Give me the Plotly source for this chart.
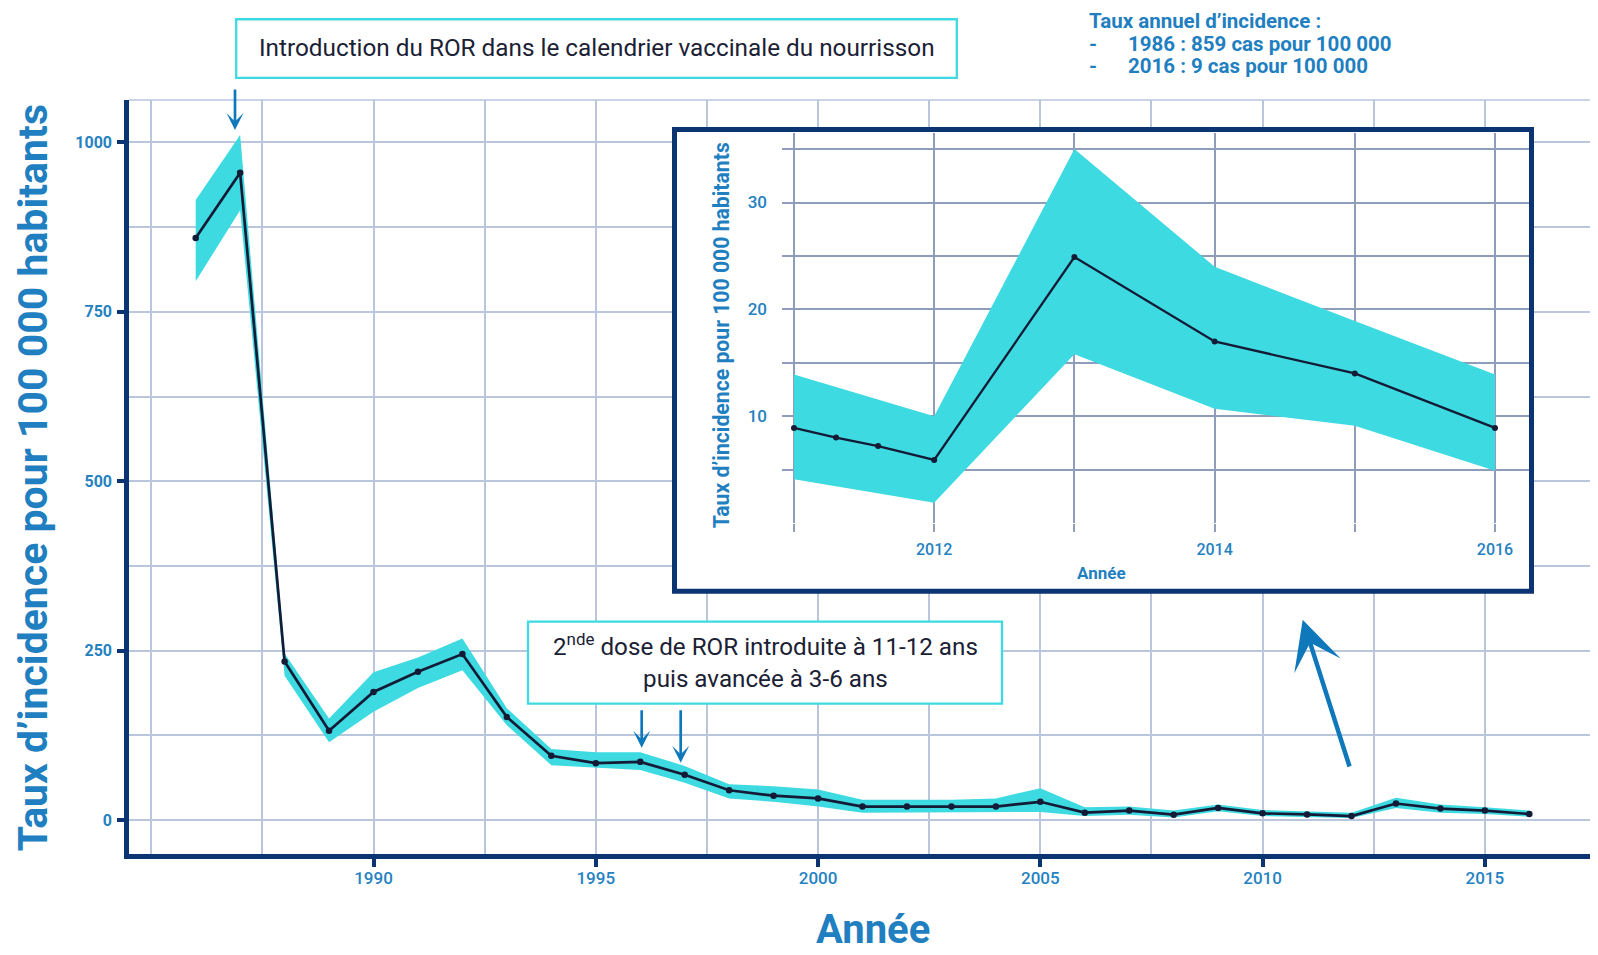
import plotly.graph_objects as go

# ---------------- data ----------------
years = list(range(1986, 2017))
incidence = [859, 955, 234, 132, 189, 219, 245, 152, 95, 84, 86, 67, 44, 36, 32,
             20, 20, 20, 20, 27, 11, 14, 8, 18, 10, 8.4, 6, 24.5, 17, 14, 9]
upper = [915, 1011, 246, 150, 218, 240, 268, 165, 105, 100, 100, 80, 53, 50, 45,
         30, 30, 30, 32, 47, 19, 20, 14, 23, 15, 13, 11, 33, 23, 19, 14]
lower = [795, 900, 213, 115, 160, 195, 221, 140, 81, 78, 74, 55, 32, 27, 20,
         11, 11, 11, 12, 12, 6, 8, 4, 13, 6, 5, 3, 18, 11, 9, 5]

inset_years = [2011, 2011.3, 2011.6, 2012, 2013, 2014, 2015, 2016]
inset_incidence = [8.9, 8.0, 7.2, 5.9, 24.9, 17.0, 14.0, 8.9]
inset_band_years = [2011, 2012, 2013, 2014, 2015, 2016]
inset_upper = [13.9, 10.0, 35.0, 24.0, 18.9, 13.9]
inset_lower = [4.1, 1.9, 15.8, 10.7, 9.1, 4.9]

main_xticks = [1990, 1995, 2000, 2005, 2010, 2015]
main_yticks = [0, 250, 500, 750, 1000]
inset_xticks = [2011, 2012, 2013, 2014, 2015, 2016]
inset_xlabels = ["", "2012", "", "2014", "", "2016"]
inset_yticks = [0, 5, 10, 15, 20, 25, 30, 35]
inset_ylabels = ["", "", "10", "", "20", "", "30", ""]

# ---------------- style ----------------
CYAN = "#3ddae1"
NAVY = "#141b36"
AXIS = "#0b3473"
GRID = "#b9c6de"
INSET_GRID = "#8f9cba"
BLUE = "#1f7fc0"
TICKBLUE = "#2582c1"
ARROW = "#0f78bb"
BOXTEXT = "#1b2135"
FONT = "Roboto"

# page body has an 8px margin: work in reference pixels and shift by OFF
OFF = 8
W, H = 1598 - OFF, 955 - OFF
PLOT_X0, PLOT_X1 = 129 - OFF, 1596 - OFF
PLOT_Y0, PLOT_Y1 = 100 - OFF, 854.5 - OFF
L, R = PLOT_X0, W - PLOT_X1
T, B = PLOT_Y0, H - PLOT_Y1
PW, PH = PLOT_X1 - PLOT_X0, PLOT_Y1 - PLOT_Y0
XR = [1984.5, 2017.5]
YR = [-50, 1062.5]


def pxp(px):  # reference pixel -> paper x
    return (px - OFF - L) / PW


def pyp(py):  # reference pixel -> paper y
    return (PLOT_Y1 - (py - OFF)) / PH


def px_to_x(px):
    return XR[0] + pxp(px) * (XR[1] - XR[0])


def py_to_y(py):
    return YR[0] + pyp(py) * (YR[1] - YR[0])


fig = go.Figure()

# main band + line
fig.add_trace(go.Scatter(x=years, y=lower, mode="lines", line=dict(width=0),
                         showlegend=False, hoverinfo="skip"))
fig.add_trace(go.Scatter(x=years, y=upper, mode="lines", line=dict(width=0),
                         fill="tonexty", fillcolor=CYAN, showlegend=False, hoverinfo="skip"))
fig.add_trace(go.Scatter(x=years, y=incidence, mode="lines+markers",
                         line=dict(color=NAVY, width=2.7),
                         marker=dict(size=6.5, color=NAVY), showlegend=False))

# inset band + line
fig.add_trace(go.Scatter(x=inset_band_years, y=inset_lower, mode="lines", line=dict(width=0),
                         xaxis="x2", yaxis="y2", showlegend=False, hoverinfo="skip"))
fig.add_trace(go.Scatter(x=inset_band_years, y=inset_upper, mode="lines", line=dict(width=0),
                         fill="tonexty", fillcolor=CYAN, xaxis="x2", yaxis="y2",
                         showlegend=False, hoverinfo="skip"))
fig.add_trace(go.Scatter(x=inset_years, y=inset_incidence, mode="lines+markers",
                         line=dict(color=NAVY, width=2.3),
                         marker=dict(size=6, color=NAVY), xaxis="x2", yaxis="y2",
                         showlegend=False))

# inset plotting area in reference pixels
ix0, ix1 = 782, 1529
iy_top, iy_bot = 133, 523.3

fig.update_layout(
    width=W, height=H,
    margin=dict(l=L, r=R, t=T, b=B),
    paper_bgcolor="white", plot_bgcolor="white",
    font=dict(family=FONT),
    showlegend=False,
    xaxis=dict(
        range=XR, tickvals=main_xticks, ticks="outside", ticklen=8, tickwidth=4,
        tickcolor=AXIS, showline=True, linecolor=AXIS, linewidth=4.5,
        showgrid=True, gridcolor=GRID, gridwidth=1.5, zeroline=False,
        minor=dict(dtick=2.5, tick0=1985, showgrid=True, gridcolor=GRID, gridwidth=1.5, ticks=""),
        tickfont=dict(family=FONT, size=17, color=TICKBLUE, weight=500),
        ticklabelstandoff=-3,
    ),
    yaxis=dict(
        range=YR, tickvals=main_yticks, ticks="outside", ticklen=7, tickwidth=4,
        tickcolor=AXIS, showline=True, linecolor=AXIS, linewidth=4.5,
        showgrid=True, gridcolor=GRID, gridwidth=1.5, zeroline=False,
        minor=dict(dtick=125, tick0=0, showgrid=True, gridcolor=GRID, gridwidth=1.5, ticks=""),
        tickfont=dict(family=FONT, size=16, color=TICKBLUE, weight="bold"),
        ticklabelstandoff=2,
    ),
    xaxis2=dict(
        domain=[pxp(ix0), pxp(ix1)], anchor="y2",
        range=[2011 - (794 - ix0) / 140.2, 2016 + (ix1 - 1495) / 140.2],
        tickvals=inset_xticks, ticktext=inset_xlabels, ticks="outside", ticklen=8,
        tickwidth=1.5, tickcolor=INSET_GRID, showline=False, zeroline=False,
        showgrid=True, gridcolor=INSET_GRID, gridwidth=1.5,
        tickfont=dict(family=FONT, size=16, color=TICKBLUE, weight=500),
        ticklabelstandoff=4,
    ),
    yaxis2=dict(
        domain=[pyp(iy_bot), pyp(iy_top)], anchor="x2",
        range=[0, (iy_bot - iy_top) / 10.69],
        tickvals=inset_yticks, ticktext=inset_ylabels, ticks="", showline=False,
        zeroline=False, showgrid=True, gridcolor=INSET_GRID, gridwidth=1.5,
        tickfont=dict(family=FONT, size=17, color=TICKBLUE, weight=500),
        ticklabelstandoff=14,
    ),
)

shapes = []
shapes.append(dict(type="line", xref="paper", yref="paper", x0=0, x1=1, y0=1, y1=1,
                   line=dict(color=GRID, width=1.5), layer="below"))
shapes.append(dict(type="rect", xref="x", yref="y",
                   x0=px_to_x(674.5), x1=px_to_x(1531.5),
                   y0=py_to_y(591.5), y1=py_to_y(129.5),
                   fillcolor="white", line=dict(color=AXIS, width=5), layer="between"))
shapes.append(dict(type="rect", xref="paper", yref="paper",
                   x0=pxp(236.2), x1=pxp(956.8), y0=pyp(77.8), y1=pyp(19.2),
                   fillcolor="white", line=dict(color=CYAN, width=2.3), layer="above"))
shapes.append(dict(type="rect", xref="paper", yref="paper",
                   x0=pxp(528), x1=pxp(1002), y0=pyp(704), y1=pyp(622),
                   fillcolor="white", line=dict(color=CYAN, width=2.3), layer="above"))
fig.update_layout(shapes=shapes)

ann = []
ann.append(dict(xref="paper", yref="paper", x=pxp(596.5), y=pyp(47.5), showarrow=False,
                text="Introduction du ROR dans le calendrier vaccinale du nourrisson",
                font=dict(family=FONT, size=24.3, color=BOXTEXT), xanchor="center", yanchor="middle"))
ann.append(dict(xref="paper", yref="paper", x=pxp(765), y=pyp(661), showarrow=False,
                text="2<sup>nde</sup> dose de ROR introduite à 11-12 ans<br>puis avancée à 3-6 ans",
                font=dict(family=FONT, size=24.2, color=BOXTEXT), xanchor="center", yanchor="middle"))
ann.append(dict(xref="paper", yref="paper", x=pxp(1087), y=pyp(21), showarrow=False,
                text="Taux annuel d’incidence :", xanchor="left", yanchor="middle",
                font=dict(family=FONT, size=20.5, color=BLUE, weight="bold")))
for yy, txt in [(43.5, "1986 : 859 cas pour 100 000"), (66, "2016 : 9 cas pour 100 000")]:
    ann.append(dict(xref="paper", yref="paper", x=pxp(1087), y=pyp(yy), showarrow=False,
                    text="-", xanchor="left", yanchor="middle",
                    font=dict(family=FONT, size=20.5, color=BLUE, weight="bold")))
    ann.append(dict(xref="paper", yref="paper", x=pxp(1126), y=pyp(yy), showarrow=False,
                    text=txt, xanchor="left", yanchor="middle",
                    font=dict(family=FONT, size=20.5, color=BLUE, weight="bold")))
ann.append(dict(xref="paper", yref="paper", x=pxp(32.5), y=pyp(478), showarrow=False,
                text="Taux d’incidence pour 100 000 habitants", textangle=-90,
                xanchor="center", yanchor="middle",
                font=dict(family=FONT, size=41, color=BLUE, weight="bold")))
ann.append(dict(xref="paper", yref="paper", x=pxp(872.5), y=pyp(930), showarrow=False,
                text="Année", xanchor="center", yanchor="middle",
                font=dict(family=FONT, size=40, color=BLUE, weight="bold")))
ann.append(dict(xref="paper", yref="paper", x=pxp(721), y=pyp(335.5), showarrow=False,
                text="Taux d’incidence pour 100 000 habitants", textangle=-90,
                xanchor="center", yanchor="middle",
                font=dict(family=FONT, size=21.2, color=BLUE, weight="bold")))
ann.append(dict(xref="paper", yref="paper", x=pxp(1101), y=pyp(573), showarrow=False,
                text="Année", xanchor="center", yanchor="middle",
                font=dict(family=FONT, size=17, color=BLUE, weight="bold")))
for (tx, ty, ay) in [(235, 130, -42), (641.7, 748.3, -39), (680.7, 763.3, -54)]:
    ann.append(dict(x=px_to_x(tx), y=py_to_y(ty), xref="x", yref="y", text="",
                    showarrow=True, ax=0, ay=ay, arrowhead=3, arrowsize=1.05,
                    arrowwidth=2.7, arrowcolor=ARROW, standoff=0))
ann.append(dict(x=px_to_x(1302.7), y=py_to_y(620), xref="x", yref="y", text="",
                showarrow=True, ax=47.3, ay=148.3, arrowhead=3, arrowsize=1.8,
                arrowwidth=4.5, arrowcolor=ARROW, standoff=0))
fig.update_layout(annotations=ann)

fig.write_html("out.html")
